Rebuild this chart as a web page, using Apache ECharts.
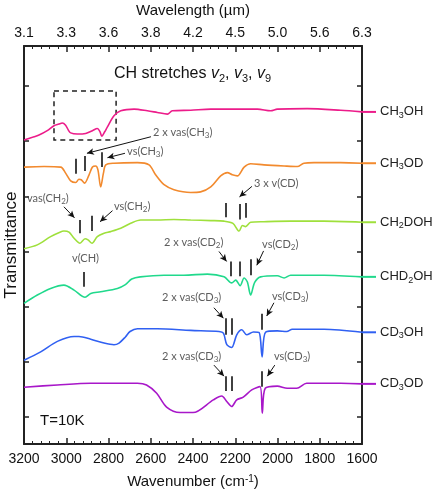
<!DOCTYPE html>
<html><head><meta charset="utf-8">
<script src="https://cdn.jsdelivr.net/npm/echarts@6/dist/echarts.min.js"></script>
<style>html,body{margin:0;padding:0;background:#fff}#c{width:432px;height:494px}</style>
</head><body><div id="c"></div>
<script>
// ---- axis ticks ----
const wavenumberTicks = [3200,3000,2800,2600,2400,2200,2000,1800,1600];
const wavelengthLabels = ['3.1','3.3','3.6','3.8','4.2','4.5','5.0','5.6','6.3'];
const offsetTicks = [0,1,2,3,4,5,6];

// ---- series (wavenumber cm-1, offset transmittance) ----
const seriesNames = ['CH3OH','CH3OD','CH2DOH','CHD2OH','CD3OH','CD3OD'];
const seriesColors = ['#ec1c8a','#f28a2e','#9fe03c','#20d98c','#3060f2','#a817c9'];

const ch3oh = [[3200,5.02],[3160,5.07],[3129,5.11],[3090,5.19],[3058,5.28],[3035,5.31],[3019,5.33],[3003,5.29],[2990,5.2],[2979,5.15],[2948,5.13],[2908,5.14],[2876,5.19],[2853,5.23],[2840,5.17],[2832,5.09],[2818,5.17],[2805,5.26],[2774,5.46],[2742,5.55],[2679,5.58],[2616,5.55],[2569,5.52],[2521,5.49],[2498,5.55],[2411,5.56],[2316,5.58],[2190,5.58],[2095,5.58],[2032,5.55],[2001,5.58],[1859,5.59],[1701,5.56],[1600,5.53]];
const ch3od = [[3200,4.53],[3105,4.54],[3026,4.53],[3003,4.42],[2979,4.28],[2955,4.25],[2940,4.31],[2929,4.30],[2913,4.24],[2892,4.39],[2876,4.53],[2861,4.55],[2850,4.48],[2837,4.17],[2824,4.42],[2813,4.57],[2774,4.60],[2663,4.61],[2608,4.57],[2577,4.39],[2537,4.21],[2490,4.12],[2411,4.07],[2364,4.08],[2316,4.17],[2269,4.37],[2237,4.43],[2214,4.39],[2190,4.37],[2158,4.53],[2127,4.59],[2064,4.57],[1969,4.55],[1906,4.54],[1875,4.60],[1827,4.61],[1701,4.61],[1600,4.60]];
const ch2doh = [[3200,3.05],[3137,3.12],[3074,3.27],[3030,3.35],[3011,3.37],[2987,3.35],[2963,3.24],[2935,3.15],[2911,3.23],[2897,3.21],[2878,3.15],[2853,3.27],[2821,3.33],[2790,3.36],[2742,3.42],[2695,3.51],[2648,3.57],[2569,3.57],[2490,3.58],[2411,3.57],[2316,3.56],[2253,3.55],[2211,3.51],[2182,3.37],[2166,3.47],[2151,3.45],[2127,3.53],[2064,3.54],[1938,3.55],[1780,3.55],[1600,3.53]];
const chd2oh = [[3200,2.06],[3137,2.21],[3074,2.33],[3011,2.39],[2963,2.30],[2911,2.17],[2884,2.24],[2837,2.27],[2758,2.33],[2720,2.40],[2690,2.50],[2650,2.54],[2537,2.57],[2443,2.57],[2332,2.59],[2253,2.54],[2217,2.43],[2198,2.48],[2177,2.38],[2158,2.52],[2143,2.45],[2127,2.21],[2108,2.44],[2080,2.54],[2001,2.56],[1969,2.52],[1938,2.57],[1780,2.57],[1600,2.54]];
const cd3oh = [[3200,1.03],[3121,1.18],[3042,1.37],[2963,1.46],[2940,1.46],[2884,1.41],[2821,1.34],[2774,1.31],[2750,1.34],[2720,1.45],[2698,1.55],[2663,1.60],[2569,1.60],[2411,1.57],[2277,1.55],[2256,1.52],[2240,1.31],[2217,1.26],[2193,1.49],[2169,1.58],[2146,1.49],[2114,1.54],[2087,1.53],[2073,1.09],[2056,1.54],[2001,1.56],[1956,1.55],[1930,1.59],[1780,1.59],[1600,1.535]];
const cd3od = [[3200,0.54],[3042,0.58],[2884,0.61],[2663,0.61],[2620,0.58],[2572,0.43],[2525,0.18],[2461,0.08],[2400,0.08],[2304,0.31],[2264,0.38],[2240,0.28],[2217,0.19],[2193,0.31],[2162,0.36],[2122,0.49],[2083,0.55],[2072,0.07],[2058,0.52],[2001,0.56],[1954,0.52],[1909,0.52],[1862,0.61],[1701,0.61],[1600,0.60]];
const spectra = [ch3oh, ch3od, ch2doh, chd2oh, cd3oh, cd3od];

// ---- annotations (data coordinates) ----
const noteTexts = ['2 x vas(CH_3)','vs(CH_3)','vas(CH_2)','vs(CH_2)','3 x v(CD)','v(CH)','2 x vas(CD_2)','vs(CD_2)','2 x vas(CD_3)','vs(CD_3)','2 x vas(CD_3)','vs(CD_3)'];
const notePos = [[2589,5.15],[2712,4.81],[3186,3.97],[2774,3.81],[2111,4.24],[2973,2.88],[2537,3.17],[2073,3.12],[2547,2.16],[2026,2.18],[2547,1.09],[2017,1.09]];
const bandBars = [[2954,4.68,4.41],[2914,4.73,4.46],[2832,4.80,4.53],
  [2935,3.57,3.33],[2877,3.65,3.37],
  [2244,3.88,3.62],[2181,3.86,3.58],[2149,3.88,3.61],
  [2916,2.63,2.36],
  [2222,2.82,2.55],[2180,2.82,2.55],[2125,2.86,2.57],
  [2246,1.79,1.49],[2215,1.79,1.49],[2073,1.87,1.58],
  [2246,0.74,0.47],[2215,0.74,0.47],[2076,0.83,0.55]];
const arrowLines = [[2599,5.08,2902,4.78],[2722,4.78,2805,4.70],
  [3011,3.81,2961,3.61],[2781,3.74,2840,3.54],
  [2121,4.18,2180,3.99],
  [2277,3.00,2241,2.82],[2066,3.01,2098,2.75],
  [2301,1.98,2256,1.79],[2017,2.07,2051,1.83],
  [2301,0.94,2253,0.74],[2013,0.94,2048,0.74]];
const boxRegion = [[3058,5.91],[2764,5.02]];

const SANS = '"Liberation Sans", Arial, sans-serif';
const NOTE = 'Lato, "Liberation Sans", sans-serif';

function nameRich(n){ return n.replace(/(\D+)|(\d+)/g,(m,a,d)=> a?`{n|${a}}`:`{s|${d}}`); }
function noteRich(t){ return t.replace(/([^_]+)|_(\d)/g,(m,a,d)=> a?`{t|${a}}`:`{u|${d}}`); }

const lineSeries = spectra.map((d,i)=>({
  type:'line', name:seriesNames[i], data:d, showSymbol:false, smooth:0.3,
  lineStyle:{color:seriesColors[i], width:1.6}, itemStyle:{color:seriesColors[i]},
  endLabel:{show:true, distance:0, align:'left', verticalAlign:'middle',
    formatter:()=> '{l|}{g| }'+nameRich(seriesNames[i]),
    rich:{
      l:{width:14,height:2,backgroundColor:seriesColors[i]},
      g:{width:4,fontSize:13},
      n:{fontSize:13,fontFamily:SANS,color:'#222',lineHeight:16},
      s:{fontSize:9,fontFamily:SANS,color:'#222',lineHeight:9,verticalAlign:'bottom'}
    }}
}));

const markData = bandBars.map(b=>[
  {coord:[b[0],b[1]],symbol:'none',lineStyle:{width:1.6,color:'#111'}},
  {coord:[b[0],b[2]],symbol:'none'}
]).concat(arrowLines.map(a=>[
  {coord:[a[0],a[1]],symbol:'none',lineStyle:{width:1,color:'#111'}},
  {coord:[a[2],a[3]],symbol:'arrow',symbolSize:[5,7]}
]));

const noteSeries = {
  type:'scatter', symbolSize:0, silent:true, z:5,
  data: notePos.map((p,i)=>({value:p, label:{formatter:noteRich(noteTexts[i])}})),
  label:{show:true, position:'inside', align:'left', verticalAlign:'middle',
    rich:{
      t:{fontSize:11,fontFamily:NOTE,color:'#333',lineHeight:14},
      u:{fontSize:8,fontFamily:NOTE,color:'#333',lineHeight:8,verticalAlign:'bottom'}
    }},
  markLine:{silent:true, symbol:'none', label:{show:false}, animation:false,
    lineStyle:{type:'solid',color:'#111'}, data:markData},
  markArea:{silent:true, label:{show:false},
    itemStyle:{color:'rgba(0,0,0,0)',borderColor:'#222',borderWidth:1.5,borderType:[5,4]},
    data:[[{coord:boxRegion[0]},{coord:boxRegion[1]}]]}
};

const xCommon = {
  type:'value', min:1600, max:3200, interval:200, inverse:true,
  axisLine:{show:true,onZero:false,lineStyle:{color:'#222',width:2}},
  axisTick:{show:true,inside:true,length:6,lineStyle:{color:'#222',width:1.5}},
  minorTick:{show:true,splitNumber:5,length:3,lineStyle:{color:'#222',width:1}},
  splitLine:{show:false},
  nameLocation:'middle'
};
const yCommon = {
  type:'value', min:-0.49, max:6.725,
  axisLine:{show:true,onZero:false,lineStyle:{color:'#222',width:2}},
  axisTick:{show:true,inside:true,length:5,customValues:offsetTicks,lineStyle:{color:'#222',width:1.5}},
  axisLabel:{show:false}, splitLine:{show:false}
};

const option = {
  animation:false,
  backgroundColor:'#fff',
  grid:{left:24,right:70,top:46,bottom:50,containLabel:false,outerBoundsMode:'none'},
  title:[
    {text:'CH stretches {i|v}{s|2}, {i|v}{s|3}, {i|v}{s|9}', left:109, top:59,
     textStyle:{fontSize:16,fontWeight:'normal',fontFamily:SANS,color:'#111',
       rich:{i:{fontSize:16,fontStyle:'italic',fontFamily:SANS,color:'#111',lineHeight:20},
             s:{fontSize:11,fontFamily:SANS,color:'#111',lineHeight:11,verticalAlign:'bottom'}}}},
    {text:'T=10K', left:35, top:408, textStyle:{fontSize:15,fontWeight:'normal',fontFamily:SANS,color:'#111'}}
  ],
  xAxis:[
    Object.assign({}, xCommon, {position:'bottom', name:'Wavenumber (cm{sup|-1})', nameGap:30,
      axisLabel:{fontSize:14,fontFamily:SANS,color:'#111',margin:8,formatter:v=>String(v)},
      nameTextStyle:{fontSize:15,fontFamily:SANS,color:'#111',rich:{sup:{fontSize:10,fontFamily:SANS,color:'#111',lineHeight:10,verticalAlign:'top'}}}}),
    Object.assign({}, xCommon, {position:'top', name:'Wavelength (µm)', nameGap:28,
      nameTextStyle:{fontSize:15,fontFamily:SANS,color:'#111'},
      axisLabel:{fontSize:14,fontFamily:SANS,color:'#111',margin:6,
        formatter:v=>wavelengthLabels[wavenumberTicks.indexOf(v)]}})
  ],
  yAxis:[
    Object.assign({}, yCommon, {position:'left', name:'Transmittance', nameLocation:'middle', nameGap:4,
      nameTextStyle:{fontSize:17,fontFamily:SANS,color:'#111'}}),
    Object.assign({}, yCommon, {position:'right'})
  ],
  series: lineSeries.concat([noteSeries])
};
const chart = echarts.init(document.getElementById('c'));
chart.setOption(option);
</script></body></html>
